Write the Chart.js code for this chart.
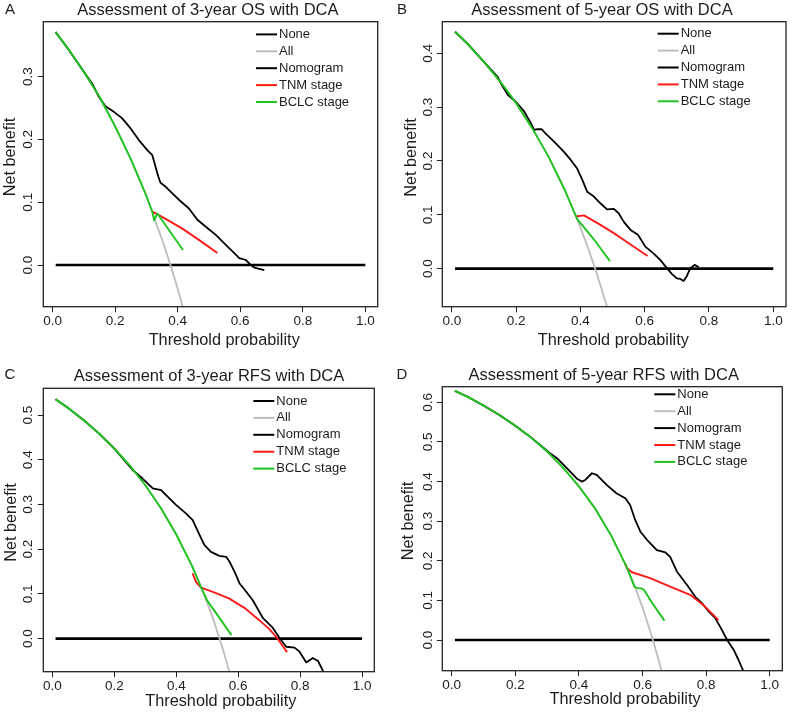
<!DOCTYPE html>
<html>
<head>
<meta charset="utf-8">
<script src="https://cdn.jsdelivr.net/npm/chart.js@4.4.0/dist/chart.umd.min.js"></script>
<style>
  body { margin: 0; background: #fff; }
  #wrap { position: relative; width: 794px; height: 715px; }
  canvas { position: absolute; }
</style>
</head>
<body>
<div id="wrap">
  <canvas id="chartA" width="397" height="357" style="left:0;top:0"></canvas>
  <canvas id="chartB" width="397" height="357" style="left:397px;top:0"></canvas>
  <canvas id="chartC" width="397" height="358" style="left:0;top:357px"></canvas>
  <canvas id="chartD" width="397" height="358" style="left:397px;top:357px"></canvas>
</div>
<script>
const seriesNames = ['None', 'All', 'Nomogram', 'TNM stage', 'BCLC stage'];
const seriesColors = ['#000000', '#bdbdbd', '#000000', '#ff1a1a', '#1fc41f'];
const xTicks = [0, 0.2, 0.4, 0.6, 0.8, 1.0];
const noneX = [0.01, 1];
const noneY = [0, 0];

// A: 3-year OS
const yTicksA = [0, 0.1, 0.2, 0.3];
const allA_x = [0.01, 0.05, 0.10, 0.15, 0.20, 0.25, 0.30, 0.33, 0.35, 0.37, 0.39, 0.41, 0.42];
const allA_y = [0.371, 0.344, 0.308, 0.268, 0.221, 0.169, 0.110, 0.068, 0.041, 0.011, -0.021, -0.055, -0.074];
const nomoA_x = [0.01, 0.05, 0.10, 0.129, 0.148, 0.169, 0.196, 0.222, 0.249, 0.276, 0.303, 0.319, 0.329, 0.338, 0.345, 0.361, 0.383, 0.404, 0.436, 0.463, 0.490, 0.522, 0.554, 0.581, 0.597, 0.618, 0.634, 0.645, 0.677];
const nomoA_y = [0.371, 0.344, 0.308, 0.287, 0.268, 0.253, 0.244, 0.234, 0.218, 0.199, 0.183, 0.175, 0.157, 0.141, 0.131, 0.125, 0.114, 0.104, 0.090, 0.072, 0.061, 0.048, 0.032, 0.019, 0.011, 0.008, 0.000, -0.004, -0.008];
const tnmA_x = [0.319, 0.36, 0.415, 0.468, 0.527];
const tnmA_y = [0.085, 0.074, 0.058, 0.040, 0.019];
const bclcA_x = [0.01, 0.05, 0.10, 0.15, 0.20, 0.25, 0.30, 0.319, 0.325, 0.335, 0.417];
const bclcA_y = [0.371, 0.344, 0.308, 0.268, 0.221, 0.169, 0.110, 0.085, 0.071, 0.082, 0.024];

// B: 5-year OS
const yTicksB = [0, 0.1, 0.2, 0.3, 0.4];
const allB_x = [0.01, 0.05, 0.10, 0.15, 0.20, 0.25, 0.30, 0.35, 0.39, 0.42, 0.45, 0.48, 0.49];
const allB_y = [0.440, 0.417, 0.384, 0.348, 0.3075, 0.261, 0.209, 0.148, 0.092, 0.045, -0.007, -0.065, -0.086];
const nomoB_x = [0.01, 0.05, 0.10, 0.143, 0.153, 0.174, 0.199, 0.225, 0.246, 0.256, 0.267, 0.279, 0.292, 0.318, 0.349, 0.370, 0.390, 0.406, 0.421, 0.442, 0.463, 0.483, 0.504, 0.519, 0.535, 0.556, 0.579, 0.602, 0.628, 0.649, 0.669, 0.685, 0.700, 0.711, 0.721, 0.731, 0.742, 0.755, 0.768];
const nomoB_y = [0.440, 0.417, 0.384, 0.356, 0.344, 0.323, 0.310, 0.292, 0.270, 0.258, 0.259, 0.259, 0.251, 0.236, 0.217, 0.202, 0.186, 0.165, 0.143, 0.134, 0.121, 0.110, 0.111, 0.103, 0.087, 0.072, 0.063, 0.041, 0.028, 0.016, 0.001, -0.010, -0.018, -0.019, -0.023, -0.014, 0.001, 0.007, 0.003];
const tnmB_x = [0.385, 0.411, 0.452, 0.504, 0.556, 0.609];
const tnmB_y = [0.097, 0.099, 0.085, 0.066, 0.045, 0.0235];
const bclcB_x = [0.01, 0.05, 0.10, 0.15, 0.20, 0.25, 0.30, 0.35, 0.39, 0.44, 0.492];
const bclcB_y = [0.440, 0.417, 0.384, 0.348, 0.3075, 0.261, 0.209, 0.148, 0.092, 0.056, 0.014];

// C: 3-year RFS
const yTicksC = [0, 0.1, 0.2, 0.3, 0.4, 0.5];
const allC_x = [0.01, 0.05, 0.10, 0.15, 0.20, 0.25, 0.30, 0.35, 0.40, 0.45, 0.48, 0.50, 0.52, 0.55, 0.57, 0.58];
const allC_y = [0.535, 0.516, 0.489, 0.459, 0.425, 0.387, 0.343, 0.292, 0.233, 0.164, 0.115, 0.080, 0.042, -0.022, -0.070, -0.095];
const nomoC_x = [0.01, 0.05, 0.10, 0.15, 0.20, 0.227, 0.259, 0.291, 0.324, 0.351, 0.367, 0.399, 0.431, 0.453, 0.475, 0.491, 0.512, 0.539, 0.561, 0.572, 0.588, 0.604, 0.626, 0.647, 0.680, 0.712, 0.734, 0.755, 0.782, 0.798, 0.820, 0.841, 0.858, 0.876];
const nomoC_y = [0.535, 0.516, 0.489, 0.459, 0.425, 0.403, 0.377, 0.358, 0.336, 0.332, 0.321, 0.299, 0.280, 0.265, 0.232, 0.209, 0.194, 0.185, 0.183, 0.172, 0.150, 0.124, 0.105, 0.086, 0.046, 0.024, 0.001, -0.018, -0.020, -0.029, -0.053, -0.043, -0.050, -0.075];
const tnmC_x = [0.4525, 0.4635, 0.48, 0.52, 0.57, 0.62, 0.667, 0.70, 0.726, 0.758];
const tnmC_y = [0.146, 0.127, 0.114, 0.104, 0.090, 0.069, 0.042, 0.022, 0.001, -0.030];
const bclcC_x = [0.01, 0.05, 0.10, 0.15, 0.20, 0.25, 0.30, 0.35, 0.40, 0.45, 0.48, 0.50, 0.544, 0.578];
const bclcC_y = [0.535, 0.516, 0.489, 0.459, 0.425, 0.387, 0.343, 0.292, 0.233, 0.164, 0.115, 0.085, 0.042, 0.008];

// D: 5-year RFS
const yTicksD = [0, 0.1, 0.2, 0.3, 0.4, 0.5, 0.6];
const allD_x = [0.01, 0.05, 0.10, 0.15, 0.20, 0.25, 0.30, 0.35, 0.40, 0.45, 0.50, 0.55, 0.575, 0.60, 0.625, 0.65, 0.66];
const allD_y = [0.629, 0.614, 0.592, 0.568, 0.541, 0.511, 0.476, 0.435, 0.388, 0.333, 0.266, 0.1845, 0.1365, 0.0825, 0.021, -0.0485, -0.079];
const nomoD_x = [0.01, 0.05, 0.10, 0.15, 0.20, 0.25, 0.31, 0.331, 0.362, 0.393, 0.409, 0.420, 0.441, 0.456, 0.488, 0.519, 0.546, 0.561, 0.577, 0.593, 0.614, 0.645, 0.672, 0.687, 0.708, 0.740, 0.766, 0.787, 0.808, 0.829, 0.850, 0.866, 0.887, 0.902, 0.918];
const nomoD_y = [0.629, 0.614, 0.592, 0.568, 0.541, 0.511, 0.471, 0.459, 0.434, 0.408, 0.400, 0.404, 0.421, 0.417, 0.391, 0.370, 0.358, 0.341, 0.303, 0.274, 0.253, 0.227, 0.221, 0.210, 0.173, 0.139, 0.109, 0.093, 0.072, 0.055, 0.025, 0.000, -0.025, -0.0505, -0.080];
const tnmD_x = [0.545, 0.551, 0.567, 0.624, 0.687, 0.750, 0.792, 0.839];
const tnmD_y = [0.193, 0.181, 0.171, 0.156, 0.135, 0.114, 0.088, 0.050];
const bclcD_x = [0.01, 0.05, 0.10, 0.15, 0.20, 0.25, 0.30, 0.35, 0.40, 0.45, 0.50, 0.55, 0.575, 0.585, 0.598, 0.605, 0.635, 0.669];
const bclcD_y = [0.629, 0.614, 0.592, 0.568, 0.541, 0.511, 0.476, 0.435, 0.388, 0.333, 0.266, 0.1845, 0.134, 0.131, 0.130, 0.126, 0.088, 0.049];

const FONT = '"Liberation Sans", Arial, Helvetica, sans-serif';
const INK = '#1c1c1c';

function pts(xs, ys) {
    return xs.map((x, i) => ({ x: x, y: ys[i] }));
}

// R-style decorations: box, rotated y labels, titles, line legend
const rDecor = {
    id: 'rDecor',
    afterDraw(chart, args, o) {
        const ctx = chart.ctx;
        const area = chart.chartArea;
        ctx.save();
        ctx.strokeStyle = '#222';
        ctx.lineWidth = 1.3;
        ctx.strokeRect(area.left, area.top, area.right - area.left, area.bottom - area.top);

        ctx.fillStyle = INK;
        ctx.textAlign = 'center';
        ctx.textBaseline = 'middle';

        const yScale = chart.scales.y;
        ctx.font = '13.5px ' + FONT;
        yScale.ticks.forEach(t => {
            ctx.save();
            ctx.translate(o.yLabelX, yScale.getPixelForValue(t.value));
            ctx.rotate(-Math.PI / 2);
            ctx.fillText(t.value.toFixed(1), 0, 0);
            ctx.restore();
        });

        ctx.font = '16.3px ' + FONT;
        ctx.save();
        ctx.translate(o.yTitle[0], o.yTitle[1]);
        ctx.rotate(-Math.PI / 2);
        ctx.fillText('Net benefit', 0, 0);
        ctx.restore();
        ctx.fillText('Threshold probability', o.xTitle[0], o.xTitle[1]);

        ctx.font = '16.5px ' + FONT;
        ctx.fillText(o.title, o.titlePos[0], o.titlePos[1]);
        ctx.font = '15px ' + FONT;
        ctx.fillText(o.letter, o.letterPos[0], o.letterPos[1]);

        // legend
        ctx.font = '13px ' + FONT;
        ctx.textAlign = 'left';
        chart.data.datasets.forEach((ds, i) => {
            const y = o.legend[1] + i * 16.9;
            ctx.strokeStyle = ds.borderColor;
            ctx.lineWidth = 2;
            ctx.beginPath();
            ctx.moveTo(o.legend[0], y);
            ctx.lineTo(o.legend[0] + 21, y);
            ctx.stroke();
            ctx.fillText(ds.label, o.legend[0] + 23, y);
        });
        ctx.restore();
    }
};

function makeDca(id, series, yTicks, yMin, yMax, geo, decor) {
    const widths = [2.7, 1.8, 1.8, 1.9, 1.9];
    const orders = [5, 4, 3, 2, 1];
    const datasets = series.map((s, i) => ({
        label: seriesNames[i],
        data: pts(s[0], s[1]),
        borderColor: seriesColors[i],
        borderWidth: widths[i],
        pointRadius: 0,
        tension: 0,
        fill: false,
        order: orders[i],
        borderJoinStyle: 'round'
    }));

    const ctx = document.getElementById(id).getContext('2d');
    return new Chart(ctx, {
        type: 'line',
        data: { datasets: datasets },
        options: {
            responsive: false,
            animation: false,
            layout: { padding: { left: 0, top: geo.top, right: geo.right, bottom: 0 } },
            plugins: {
                legend: { display: false },
                tooltip: { enabled: false },
                rDecor: decor
            },
            scales: {
                x: {
                    type: 'linear',
                    min: -0.0296,
                    max: 1.0396,
                    afterBuildTicks: s => { s.ticks = xTicks.map(v => ({ value: v })); },
                    afterFit: s => { s.height = geo.xHeight; },
                    ticks: {
                        autoSkip: false,
                        maxRotation: 0,
                        padding: 1,
                        color: INK,
                        font: { family: FONT, size: 13.5 },
                        callback: v => v.toFixed(1)
                    },
                    grid: { drawOnChartArea: false, drawTicks: true, tickLength: 5.5, color: '#222', lineWidth: 1 },
                    border: { display: false }
                },
                y: {
                    type: 'linear',
                    min: yMin,
                    max: yMax,
                    afterBuildTicks: s => { s.ticks = yTicks.map(v => ({ value: v })); },
                    afterFit: s => { s.width = geo.left; },
                    ticks: { display: false },
                    grid: { drawOnChartArea: false, drawTicks: true, tickLength: 5.5, color: '#222', lineWidth: 1 },
                    border: { display: false }
                }
            }
        },
        plugins: [rDecor]
    });
}

makeDca('chartA',
    [[noneX, noneY], [allA_x, allA_y], [nomoA_x, nomoA_y], [tnmA_x, tnmA_y], [bclcA_x, bclcA_y]],
    yTicksA, -0.0664, 0.3876,
    { left: 43.3, top: 21.7, right: 19.3, xHeight: 50.3 },
    { title: 'Assessment of 3-year OS with DCA', titlePos: [207.8, 10], letter: 'A', letterPos: [10, 10],
      yTitle: [10.7, 157], yLabelX: 28.3, xTitle: [224.2, 341], legend: [256, 34.4] });

makeDca('chartB',
    [[noneX, noneY], [allB_x, allB_y], [nomoB_x, nomoB_y], [tnmB_x, tnmB_y], [bclcB_x, bclcB_y]],
    yTicksB, -0.0706, 0.4587,
    { left: 45.3, top: 21.7, right: 8, xHeight: 50.3 },
    { title: 'Assessment of 5-year OS with DCA', titlePos: [205, 10], letter: 'B', letterPos: [5, 10],
      yTitle: [15, 157.5], yLabelX: 31.7, xTitle: [216.3, 341], legend: [260.7, 33.7] });

makeDca('chartC',
    [[noneX, noneY], [allC_x, allC_y], [nomoC_x, nomoC_y], [tnmC_x, tnmC_y], [bclcC_x, bclcC_y]],
    yTicksC, -0.0738, 0.5597,
    { left: 43.3, top: 31.3, right: 22.7, xHeight: 43.3 },
    { title: 'Assessment of 3-year RFS with DCA', titlePos: [209, 19.7], letter: 'C', letterPos: [10, 18],
      yTitle: [11.7, 165.5], yLabelX: 28.3, xTitle: [220.8, 344.7], legend: [253.3, 44] });

makeDca('chartD',
    [[noneX, noneY], [allD_x, allD_y], [nomoD_x, nomoD_y], [tnmD_x, tnmD_y], [bclcD_x, bclcD_y]],
    yTicksD, -0.0775, 0.6395,
    { left: 45.3, top: 29.7, right: 11.7, xHeight: 44.3 },
    { title: 'Assessment of 5-year RFS with DCA', titlePos: [206.7, 18], letter: 'D', letterPos: [5, 18],
      yTitle: [11.7, 164], yLabelX: 31.7, xTitle: [228, 343], legend: [257.3, 37.3] });
</script>
</body>
</html>
